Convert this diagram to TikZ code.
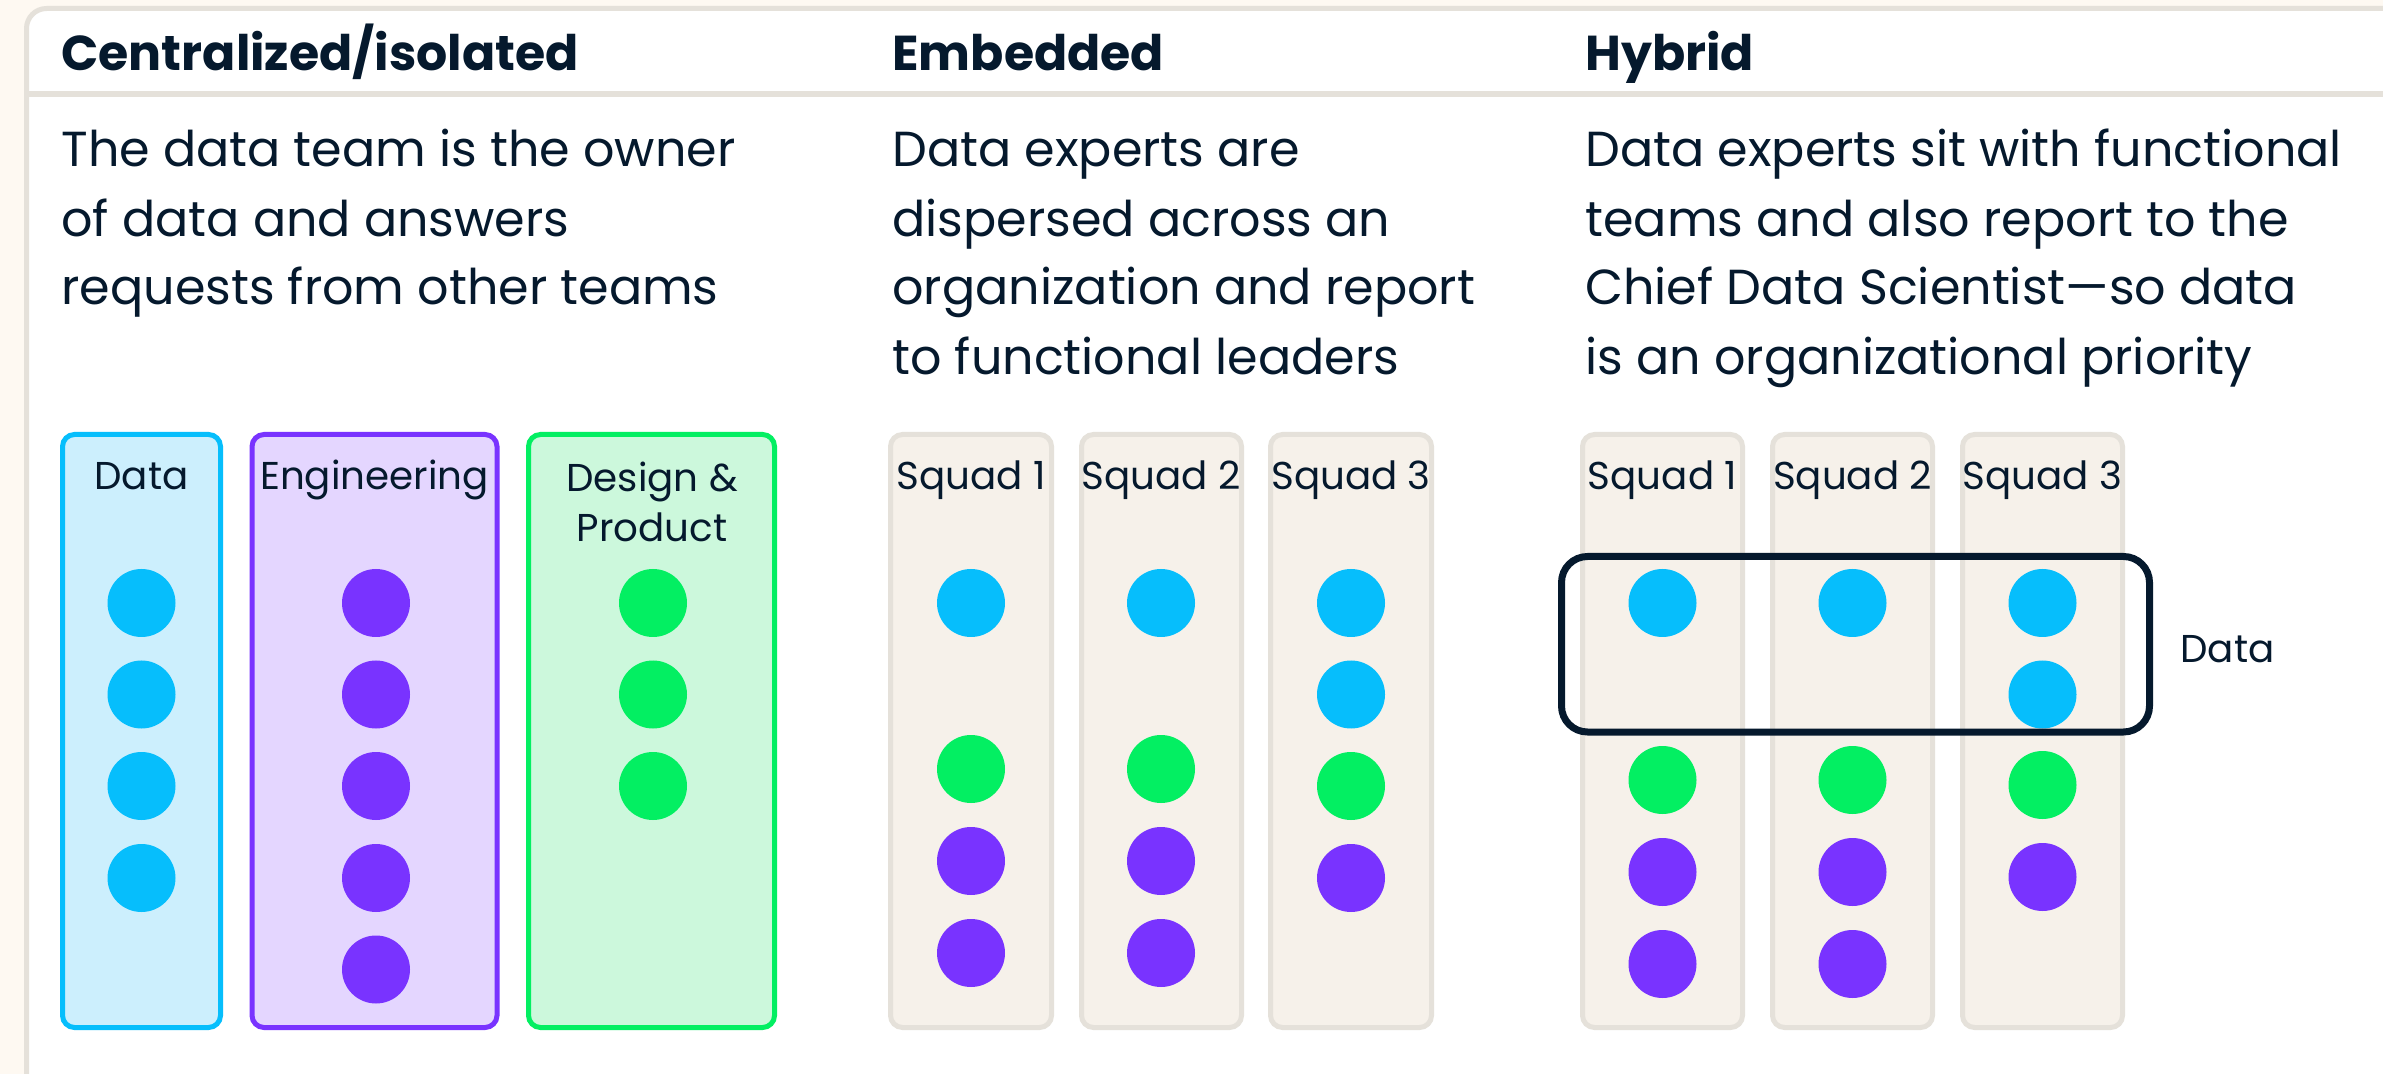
\documentclass[tikz,border=0pt]{standalone}
\usepackage{fontspec}
\setmainfont{Poppins}
\definecolor{navy}{HTML}{05192D}
\definecolor{cblue}{HTML}{06BEFC}
\definecolor{cpurple}{HTML}{7933FF}
\definecolor{cgreen}{HTML}{03EF62}
\definecolor{lblue}{HTML}{CCEFFD}
\definecolor{lpurple}{HTML}{E4D6FF}
\definecolor{lgreen}{HTML}{CCF8DC}
\definecolor{beige}{HTML}{F6F1EA}
\definecolor{beigeline}{HTML}{E5E1DA}
\definecolor{bgc}{HTML}{FEF9F2}
\tikzset{
  dot/.style={circle, fill=#1, draw=none, minimum size=34pt, inner sep=0pt},
  teambox/.style={draw=#1, line width=2.5pt, rounded corners=6pt},
  squadbox/.style={draw=beigeline, fill=beige, line width=2.5pt, rounded corners=6pt},
  headtxt/.style={anchor=base west, inner sep=0pt, text=navy, font=\fontsize{24.5}{30}\selectfont\bfseries},
  bodytxt/.style={anchor=base west, inner sep=0pt, text=navy, font=\fontsize{24.6}{28}\selectfont},
  labtxt/.style={anchor=base, inner sep=0pt, text=navy, font=\fontsize{19.4}{22}\selectfont},
}
\begin{document}
\begin{tikzpicture}[x=0.5pt, y=-0.5pt]
\useasboundingbox (0,0) rectangle (2383,1074);
\clip (0,0) rectangle (2383,1074);
\fill[bgc] (0,0) rectangle (2383,1074);
% panel
\draw[beigeline, line width=2.5pt, fill=white, rounded corners=10pt]
  (26.5,1200) -- (26.5,8.5) -- (2500,8.5) -- (2500,1200) -- cycle;
\draw[beigeline, line width=3pt] (26.5,94) -- (2400,94);
% headers
\node[headtxt] (h1) at (61,71) {Centralized/isolated};
\node[headtxt] (h2) at (892,71) {Embedded};
\node[headtxt] (h3) at (1585,71) {Hybrid};
% body text
\node[bodytxt] (b1a) at (61,167) {The data team is the owner};
\node[bodytxt] (b1b) at (61,237) {of data and answers};
\node[bodytxt] (b1c) at (61,305) {requests from other teams};
\node[bodytxt] (b2a) at (892,167) {Data experts are};
\node[bodytxt] (b2b) at (892,237) {dispersed across an};
\node[bodytxt] (b2c) at (892,305) {organization and report};
\node[bodytxt] (b2d) at (892,375) {to functional leaders};
\node[bodytxt] (b3a) at (1585,167) {Data experts sit with functional};
\node[bodytxt] (b3b) at (1585,237) {teams and also report to the};
\node[bodytxt] (b3c) at (1585,305) {Chief Data Scientist—so data};
\node[bodytxt] (b3d) at (1585,375) {is an organizational priority};
% centralized team boxes
\draw[teambox=cblue, fill=lblue] (62.5,434.5) rectangle (220.5,1027.5);
\draw[teambox=cpurple, fill=lpurple] (252,434.5) rectangle (497,1027.5);
\draw[teambox=cgreen, fill=lgreen] (528.5,434.5) rectangle (774.5,1027.5);
\node[labtxt] (ldata) at (141.5,490) {Data};
\node[labtxt] (leng) at (374.5,490) {Engineering};
\node[labtxt] (ldes1) at (652,492) {Design \&};
\node[labtxt] (ldes2) at (652,542) {Product};
\foreach \i/\y in {1/603,2/694.5,3/786,4/878}
  \node[dot=cblue] (cd\i) at (141.5,\y) {};
\foreach \i/\y in {1/603,2/694.5,3/786,4/878,5/969.5}
  \node[dot=cpurple] (ce\i) at (376,\y) {};
\foreach \i/\y in {1/603,2/694.5,3/786}
  \node[dot=cgreen] (cg\i) at (653,\y) {};
% embedded squads
\foreach \k/\xa/\xb in {1/890.5/1051.5,2/1081.5/1241.5,3/1270.5/1431.5}
  \draw[squadbox] (\xa,434.5) rectangle (\xb,1027.5);
\foreach \k/\x in {1/971,2/1161,3/1351}
  \node[labtxt] (es\k) at (\x,490) {Squad \k};
\foreach \k/\x in {1/971,2/1161}{
  \node[dot=cblue] (e\k b1) at (\x,603) {};
  \node[dot=cgreen] (e\k g1) at (\x,769) {};
  \node[dot=cpurple] (e\k p1) at (\x,861) {};
  \node[dot=cpurple] (e\k p2) at (\x,953) {};
}
\node[dot=cblue] (e3b1) at (1351,603) {};
\node[dot=cblue] (e3b2) at (1351,694.5) {};
\node[dot=cgreen] (e3g1) at (1351,786) {};
\node[dot=cpurple] (e3p1) at (1351,878) {};
% hybrid squads
\foreach \k/\xa/\xb in {1/1582.5/1742.5,2/1772.5/1932.5,3/1962.5/2122.5}
  \draw[squadbox] (\xa,434.5) rectangle (\xb,1027.5);
\foreach \k/\x in {1/1662.5,2/1852.5,3/2042.5}
  \node[labtxt] (hs\k) at (\x,490) {Squad \k};
\foreach \k/\x in {1/1662.5,2/1852.5}{
  \node[dot=cblue] (h\k b1) at (\x,603) {};
  \node[dot=cgreen] (h\k g1) at (\x,780) {};
  \node[dot=cpurple] (h\k p1) at (\x,872) {};
  \node[dot=cpurple] (h\k p2) at (\x,964) {};
}
\node[dot=cblue] (h3b1) at (2042.5,603) {};
\node[dot=cblue] (h3b2) at (2042.5,694.5) {};
\node[dot=cgreen] (h3g1) at (2042.5,785) {};
\node[dot=cpurple] (h3p1) at (2042.5,877) {};
% data group
\draw[navy, line width=3.5pt, rounded corners=13pt] (1561.5,556.5) rectangle (2149.5,732);
\node[labtxt, anchor=base west] (hdata) at (2180,662) {Data};
\end{tikzpicture}
\end{document}
